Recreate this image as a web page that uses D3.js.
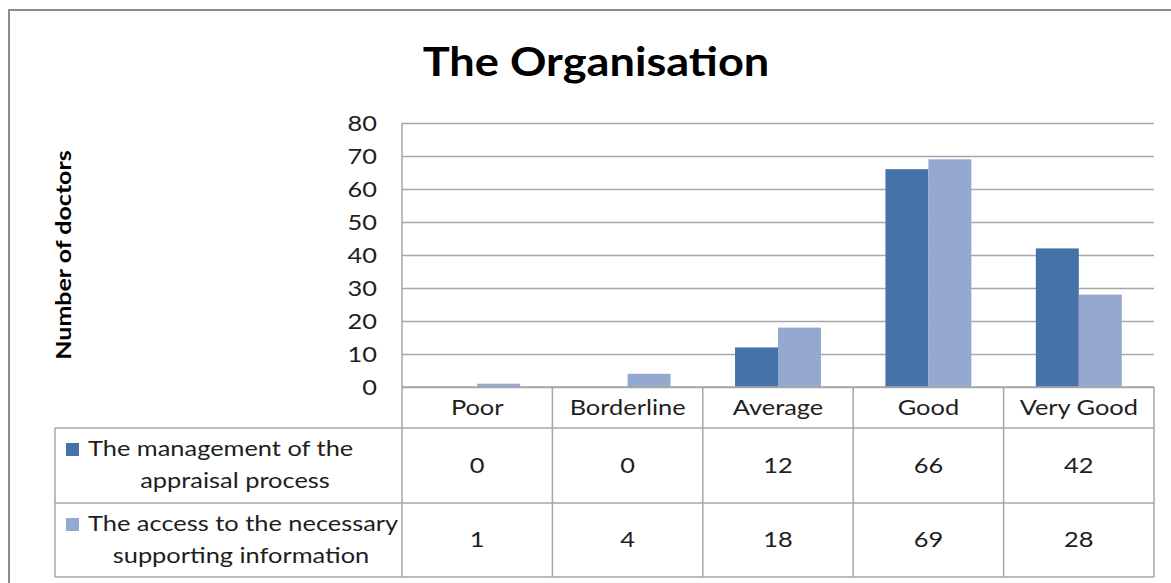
<!DOCTYPE html>
<html>
<head>
<meta charset="utf-8">
<script src="https://cdn.jsdelivr.net/npm/d3@7"></script>
<style>
  html, body { margin: 0; padding: 0; background: #fff; }
  svg { display: block; font-family: Lato, "Open Sans", sans-serif; }
</style>
</head>
<body>
<div id="chart"></div>
<script>
// data
const categories = ['Poor', 'Borderline', 'Average', 'Good', 'Very Good'];
const seriesNames = ['The management of the appraisal process', 'The access to the necessary supporting information'];
const management = [0, 0, 12, 66, 42];
const access = [1, 4, 18, 69, 28];
const yTicks = [0, 10, 20, 30, 40, 50, 60, 70, 80];

const width = 1171, height = 583;
const margin = {top: 123, right: 17, left: 402};
const zeroY = 387;
const colors = ['#4572a7', '#95a9d0'];
const gridColor = '#a6a6a6';
const textColor = '#1e1e1e';
const sx = 1.21;   // the original font (Calibri) renders wider than Lato here

const svg = d3.select('#chart').append('svg')
  .attr('width', width)
  .attr('height', height);

// place a text at x,y with horizontal stretch
function put(sel, x, y, k) {
  return sel.attr('transform', `translate(${x},${y}) scale(${k || sx},1)`);
}

// outer chart border (only top and left visible in the crop)
svg.append('path')
  .attr('d', `M9,${height} V10 H${width}`)
  .attr('fill', 'none')
  .attr('stroke', '#8c8c8c')
  .attr('stroke-width', 2);

const x = d3.scaleBand()
  .domain(categories)
  .range([margin.left, width - margin.right]);
const xInner = d3.scaleBand()
  .domain([0, 1])
  .range([0, x.bandwidth()])
  .paddingOuter(0.75);
const y = d3.scaleLinear()
  .domain([0, 80])
  .range([zeroY, margin.top]);

// gridlines + tick labels
const yAxis = g => g.attr('transform', `translate(${margin.left},0)`)
  .call(d3.axisLeft(y).tickValues(yTicks).tickSize(0).tickPadding(25))
  .call(g => g.select('.domain').remove())
  .call(g => g.selectAll('.tick line').clone()
              .attr('x2', width - margin.right - margin.left)
              .attr('stroke', gridColor)
              .attr('stroke-width', 1.5))
  .call(g => g.selectAll('.tick text')
              .attr('x', null).attr('dy', null)
              .attr('transform', `translate(-25,7) scale(${sx},1)`)
              .attr('font-size', 21)
              .attr('font-family', 'Lato, sans-serif')
              .attr('fill', textColor));
svg.append('g').call(yAxis);

// left axis line
svg.append('line')
  .attr('x1', margin.left).attr('x2', margin.left)
  .attr('y1', margin.top).attr('y2', zeroY)
  .attr('stroke', gridColor).attr('stroke-width', 1.5);

// bars
const data = [management, access];
svg.append('g')
  .selectAll('g')
  .data(data)
  .join('g')
    .attr('fill', (d, i) => colors[i])
  .selectAll('rect')
  .data((d, i) => d.map((v, j) => ({s: i, cat: categories[j], v: v})))
  .join('rect')
    .attr('x', d => x(d.cat) + xInner(d.s))
    .attr('width', xInner.bandwidth())
    .attr('y', d => y(d.v))
    .attr('height', d => zeroY - y(d.v));

// data table
const tableLeft = 55, headerBottom = 428, row1Bottom = 503, tableBottom = 577;
const right = width - margin.right;
const tbl = svg.append('g')
  .attr('stroke', gridColor)
  .attr('stroke-width', 1.5);
tbl.append('line').attr('x1', margin.left).attr('x2', right).attr('y1', zeroY).attr('y2', zeroY);
[headerBottom, row1Bottom, tableBottom].forEach(yy => {
  tbl.append('line').attr('x1', tableLeft).attr('x2', right).attr('y1', yy).attr('y2', yy);
});
tbl.append('line').attr('x1', tableLeft).attr('x2', tableLeft).attr('y1', headerBottom).attr('y2', tableBottom);
categories.forEach(c => {
  tbl.append('line').attr('x1', x(c)).attr('x2', x(c)).attr('y1', zeroY).attr('y2', tableBottom);
});
tbl.append('line').attr('x1', right).attr('x2', right).attr('y1', zeroY).attr('y2', tableBottom);

const txt = svg.append('g')
  .attr('font-size', 21)
  .attr('fill', textColor)
  .attr('text-anchor', 'middle');

// category header
txt.selectAll('.cat')
  .data(categories)
  .join('text')
    .attr('transform', d => `translate(${x(d) + x.bandwidth() / 2},${(zeroY + headerBottom) / 2 + 7}) scale(${sx},1)`)
    .text(d => d);

// values
const rowMid = [(headerBottom + row1Bottom) / 2, (row1Bottom + tableBottom) / 2];
data.forEach((vals, i) => {
  txt.append('g').selectAll('text')
    .data(vals)
    .join('text')
      .attr('transform', (d, j) => `translate(${x(categories[j]) + x.bandwidth() / 2},${rowMid[i] + 7}) scale(${sx},1)`)
      .text(d => d);
});

// legend keys in the table
const legendLines = [
  ['The management of the', 'appraisal process'],
  ['The access to the necessary', 'supporting information']
];
legendLines.forEach((lines, i) => {
  const top = i === 0 ? headerBottom : row1Bottom;
  svg.append('rect')
    .attr('x', 66).attr('y', top + 15)
    .attr('width', 13).attr('height', 13)
    .attr('fill', colors[i]);
  put(txt.append('text').attr('text-anchor', 'start'), 88, top + 28)
    .text(lines[0]);
  put(txt.append('text'), i === 0 ? 235 : 241, top + 60)
    .text(lines[1]);
});

// title
put(svg.append('text'), 596, 76, 1.13)
  .attr('text-anchor', 'middle')
  .attr('font-size', 40)
  .attr('font-weight', 'bold')
  .attr('fill', '#000')
  .text('The Organisation');

// y axis title
svg.append('text')
  .attr('transform', `translate(71,255) rotate(-90) scale(1.25,1)`)
  .attr('text-anchor', 'middle')
  .attr('font-size', 20)
  .attr('font-weight', 'bold')
  .attr('fill', '#000')
  .text('Number of doctors');
</script>
</body>
</html>
